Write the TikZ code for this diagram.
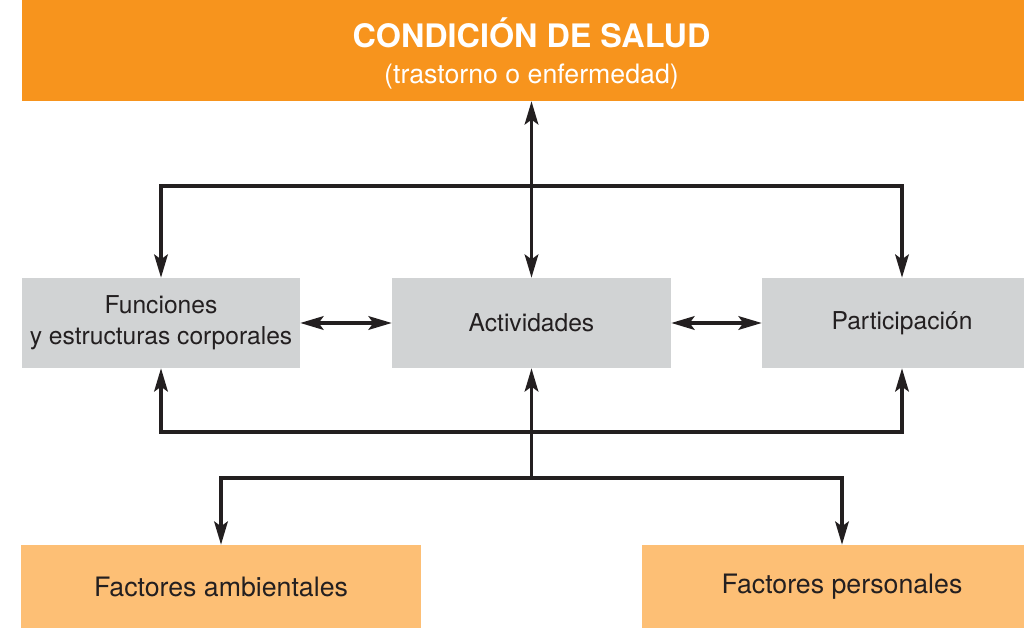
\documentclass[tikz,border=0pt]{standalone}
\usepackage{fontspec}
\setmainfont{TeX Gyre Heros}
\usetikzlibrary{arrows.meta}

\definecolor{saludorange}{HTML}{F7941D}
\definecolor{factororange}{HTML}{FDBF75}
\definecolor{boxgray}{HTML}{D1D3D4}
\definecolor{inkgray}{HTML}{231F20}

\begin{document}
\begin{tikzpicture}[x=0.025cm, y=-0.025cm,
        >={Stealth[length=5.8mm, width=3.4mm, inset=1.2mm]},
        box/.style = {inner sep=0pt, align=center, text=inkgray},
        graybox/.style = {box, fill=boxgray, minimum height=90*0.025cm,
            font={\fontsize{17.5}{22}\selectfont}},
        factorbox/.style = {box, fill=factororange, minimum height=83*0.025cm,
            minimum width=400*0.025cm, font={\fontsize{19}{22}\selectfont}},
        link/.style = {draw=inkgray, line width=2.4pt}]
        \clip (0, 0) rectangle (1024, 628);
        % boxes
        \node[box, fill=saludorange, minimum width=1019*0.025cm,
            minimum height=101*0.025cm] (salud) at (531.5, 50.5) {};
        \node[anchor=base, text=white, font={\fontsize{23}{24}\selectfont\bfseries}]
            (saludtitle) at (531.5, 48) {CONDICIÓN DE SALUD};
        \node[anchor=base, text=white, font={\fontsize{19}{22}\selectfont}]
            (saludsub) at (531.5, 84) {(trastorno o enfermedad)};
        \node[graybox, minimum width=278*0.025cm] (func) at (161, 323)
            {Funciones\\y estructuras corporales};
        \node[graybox, minimum width=279*0.025cm] (activ) at (531.5, 323) {Actividades};
        \node[graybox, minimum width=280*0.025cm] (partic) at (902, 323) {Participación};
        \node[factorbox] (ambient) at (221, 586.5) {Factores ambientales};
        \node[factorbox] (personal) at (842, 586.5) {Factores personales};
        % junctions
        \coordinate (upbar) at (531.5, 186);
        \coordinate (lowbar) at (531.5, 432);
        \coordinate (hub) at (531.5, 478);
        % connectors
        \draw[link, <->] (salud) -- (activ);
        \draw[link, ->] (upbar) -| (func);
        \draw[link, ->] (upbar) -| (partic);
        \draw[link, <->] (func) -- (activ);
        \draw[link, <->] (activ) -- (partic);
        \draw[link, ->] (lowbar) -| (func);
        \draw[link, ->] (lowbar) -| (partic);
        \draw[link, ->] (hub) -- (activ);
        \draw[link, ->] (hub) -| (ambient);
        \draw[link, ->] (hub) -| (personal);
    \end{tikzpicture}
\end{document}
